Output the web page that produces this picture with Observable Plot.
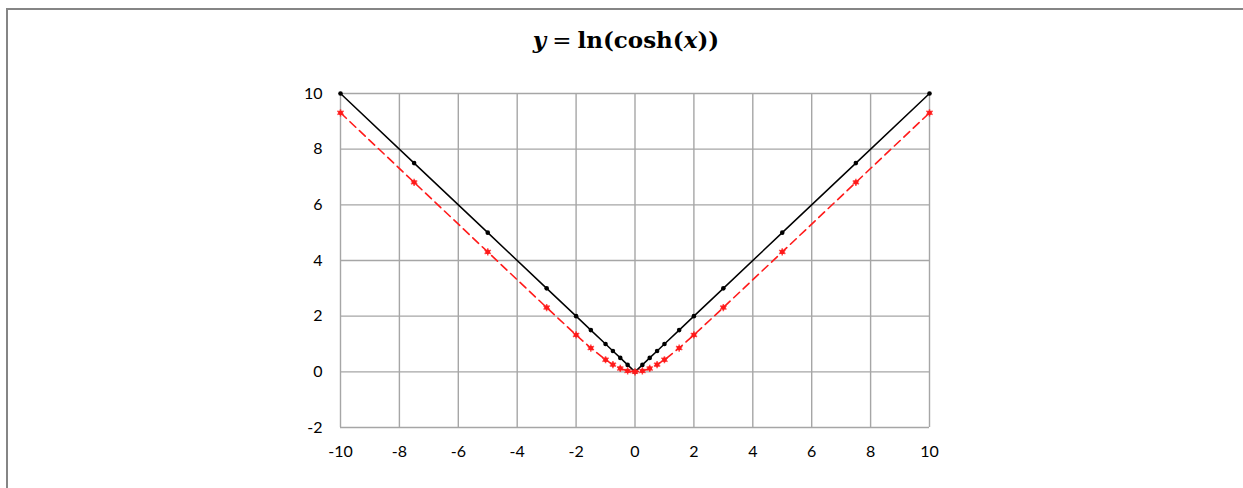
<!DOCTYPE html>
<html>
<head>
<meta charset="utf-8">
<script src="https://cdn.jsdelivr.net/npm/d3@7"></script>
<script src="https://cdn.jsdelivr.net/npm/@observablehq/plot@0.6"></script>
<style>
  html, body { margin: 0; padding: 0; background: #fff; overflow: hidden; width: 1243px; height: 488px; }
  #frame { position: absolute; left: 6px; top: 8px; width: 1400px; height: 600px;
           border-left: 2px solid #858585; border-top: 2px solid #858585; box-sizing: border-box; }
  #title { position: absolute; top: 25px; left: 626px; transform: translateX(-50%);
           font-family: "DejaVu Serif", "Liberation Serif", serif; font-weight: bold; font-size: 23px;
           line-height: 30px; white-space: nowrap; color: #000; }
  #title .op { margin: 0 6px; font-weight: normal; }
  #chart { position: absolute; left: 0; top: 70px; }
</style>
</head>
<body>
<div id="frame"></div>
<div id="title"><i>y</i><span class="op">=</span>ln(cosh(<i>x</i>))</div>
<div id="chart"></div>
<script>
// sample positions along x
const xValues = [-10, -7.5, -5, -3, -2, -1.5, -1, -0.75, -0.5, -0.25, 0, 0.25, 0.5, 0.75, 1, 1.5, 2, 3, 5, 7.5, 10];
// y = |x| (black reference line)
const absValues = [10, 7.5, 5, 3, 2, 1.5, 1, 0.75, 0.5, 0.25, 0, 0.25, 0.5, 0.75, 1, 1.5, 2, 3, 5, 7.5, 10];
// y = ln(cosh(x)) (red dashed curve)
const lnCoshValues = [9.307, 6.807, 4.307, 2.309, 1.325, 0.855, 0.434, 0.258, 0.120, 0.031, 0, 0.031, 0.120, 0.258, 0.434, 0.855, 1.325, 2.309, 4.307, 6.807, 9.307];
// axis ticks
const xTicks = [-10, -8, -6, -4, -2, 0, 2, 4, 6, 8, 10];
const yTicks = [-2, 0, 2, 4, 6, 8, 10];

const rows = xValues.map((x, i) => ({x, abs: absValues[i], lnc: lnCoshValues[i]}));

const gridColor = "#a6a6a6";
const red = "#ff1a1a";

const chart = Plot.plot({
  width: 1243,
  height: 418,
  marginTop: 23,
  marginBottom: 61,
  marginLeft: 340,
  marginRight: 314,
  style: {fontFamily: "Lato, 'Open Sans', sans-serif", fontSize: "16px", color: "#000", background: "transparent"},
  x: {domain: [-10, 10]},
  y: {domain: [-2, 10]},
  marks: [
    Plot.gridX(xTicks, {stroke: gridColor, strokeOpacity: 1, strokeWidth: 1.4}),
    Plot.gridY(yTicks, {stroke: gridColor, strokeOpacity: 1, strokeWidth: 1.4}),
    Plot.axisX(xTicks, {tickSize: 0, tickPadding: 18, tickFormat: d => String(d), label: null}),
    Plot.axisY(yTicks, {tickSize: 0, tickPadding: 18, tickFormat: d => String(d), label: null}),
    Plot.line(rows, {x: "x", y: "abs", stroke: "#000", strokeWidth: 1.5}),
    Plot.dot(rows, {x: "x", y: "abs", r: 2.3, fill: "#000"}),
    Plot.line(rows, {x: "x", y: "lnc", stroke: red, strokeWidth: 1.6, strokeDasharray: "8,5"}),
    Plot.dot(rows, {x: "x", y: "lnc", r: 2.4, fill: red}),
    Plot.dot(rows, {x: "x", y: "lnc", symbol: "asterisk", r: 3.4, stroke: red, strokeWidth: 1.5, strokeOpacity: 0.8})
  ]
});
document.getElementById("chart").appendChild(chart);
</script>
</body>
</html>
